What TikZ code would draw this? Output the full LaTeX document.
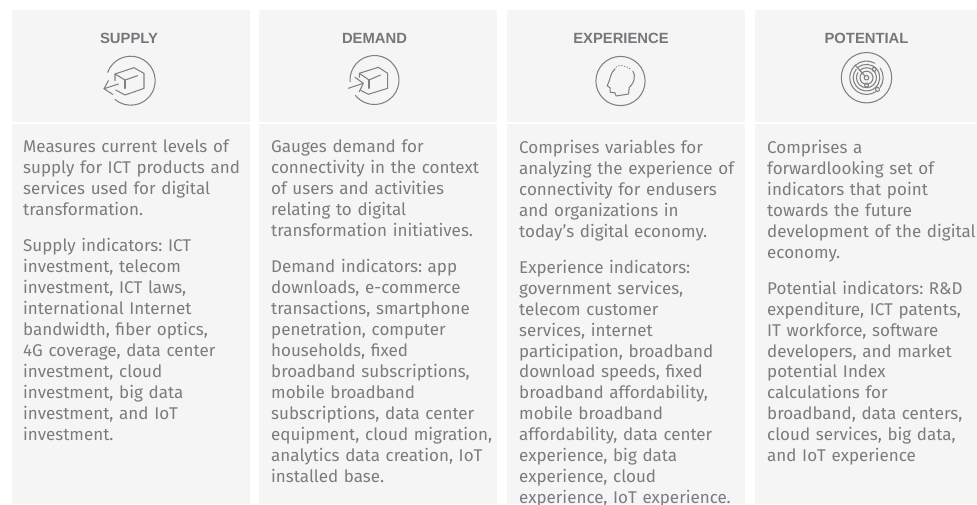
\documentclass[tikz,border=0pt]{standalone}
\usepackage{fontspec}
\setmainfont{Fira Sans}
\definecolor{panel}{HTML}{F5F5F5}
\definecolor{ink}{HTML}{7B7C7F}
\definecolor{headink}{HTML}{76777B}
\definecolor{iconink}{HTML}{808080}
\newfontfamily\headfont{Liberation Sans Bold}
\tikzset{
  x=1pt,y=-1pt,
  panelbox/.style={fill=panel,draw=none},
  headtext/.style={anchor=center,font=\headfont\fontsize{14.8}{17}\selectfont,text=headink,inner sep=0pt},
  bodytext/.style={anchor=north west,align=left,inner sep=0pt,text=ink,text width=232pt,font=\frenchspacing\fontsize{17}{20.95}\selectfont},
  iconline/.style={draw=iconink,line width=1.05pt,line join=round,line cap=round},
}
\newcommand{\paragap}{\\[15pt]}
\begin{document}
\begin{tikzpicture}
\useasboundingbox (0,0) rectangle (977,504);
\fill[white] (0,0) rectangle (977,504);
\foreach \a/\b in {12/250,259/497,507/745,755/977}{
  \path[panelbox] (\a,10) rectangle (\b,122);
  \path[panelbox] (\a,124) rectangle (\b,504);
}
\node[headtext] (h1) at (129,38.5) {SUPPLY};
\node[headtext] (h2) at (374.5,38.5) {DEMAND};
\node[headtext] (h3) at (621,38.5) {EXPERIENCE};
\node[headtext] (h4) at (866.5,38.5) {POTENTIAL};
% supply icon
\begin{scope}[shift={(130.7,80.7)}]
  \draw[iconline] ({24.5*cos(200)},{24.5*sin(200)}) arc[start angle=200,end angle=490,radius=24.5];
  \draw[iconline] (-15.7,0) -- (-15.7,-6.7) -- (3.3,-13) -- (13.3,-7.3) -- (13.3,7.7) -- (-5.7,14.3) -- (-15,9.3);
  \draw[iconline] (-15.7,-6.7) -- (-5.7,-0.7) -- (7,-5);
  \draw[iconline] (-5.7,-0.7) -- (-5.7,7.7);
  \draw[iconline] (-12.3,3.3) -- (-26.7,8);
  \draw[iconline] (-22.3,0) -- (-26.7,8) -- (-18,13.7);
\end{scope}
% demand icon
\begin{scope}[shift={(374.5,80)}]
  \draw[iconline] ({24.5*cos(176)},{24.5*sin(176)}) arc[start angle=176,end angle=501,radius=24.5];
  \draw[iconline] (-15.2,-2.7) -- (-15.2,-6.7) -- (3.8,-12.7) -- (13.2,-6.7) -- (13.2,8.3) -- (-6.2,14.3) -- (-14.5,10);
  \draw[iconline] (-15.2,-6.7) -- (-5.5,0) -- (6,-5);
  \draw[iconline] (-5.5,0) -- (-5.5,8.3);
  \draw[iconline] (-26.2,8.3) -- (-11.2,3.3);
  \draw[iconline] (-19.5,-2.7) -- (-11.2,3.3) -- (-15.2,11.7);
\end{scope}
% experience icon
\begin{scope}[shift={(620.5,81)}]
  \draw[iconline] (0,0) circle[radius=24.6];
  \draw[iconline] (-5.3,-12.3) .. controls (-8,-10) and (-9.3,-7.3) .. (-10.2,-4) -- (-11,-0.7) -- (-13.3,4.7) -- (-10.3,7) -- (-10.3,11.3) -- (-5.7,11.7) -- (-4.3,15) -- (8,13) -- (8.7,6.7) .. controls (11,4) and (13,2) .. (13.6,-2) .. controls (14.2,-5) and (14,-8) .. (12.3,-10);
  \draw[iconline,line width=1pt,dash pattern=on 0.6pt off 2.2pt] (-4.3,-14) .. controls (-1.5,-16) and (5,-16.5) .. (11,-11);
\end{scope}
% potential icon
\begin{scope}[shift={(866.5,77.7)}]
  \draw[iconline] (0,0) circle[radius=25.2];
  \draw[iconline] (0,0) circle[radius=2.3];
  \draw[iconline] (0,0) circle[radius=6.5];
  \draw[iconline] ({10*cos(225)},{10*sin(225)}) arc[start angle=225,end angle=570,radius=10];
  \draw[iconline] ({13.3*cos(230)},{13.3*sin(230)}) arc[start angle=230,end angle=580,radius=13.3];
  \draw[iconline] ({16.7*cos(228)},{16.7*sin(228)}) arc[start angle=228,end angle=300,radius=16.7];
  \draw[iconline] ({16.7*cos(325)},{16.7*sin(325)}) arc[start angle=325,end angle=395,radius=16.7];
  \draw[iconline] ({16.7*cos(55)},{16.7*sin(55)}) arc[start angle=55,end angle=228,radius=16.7];
  \draw[iconline] (-1.6,-1.7) -- (-11.2,-12.4);
  \draw[iconline] (7.7,-8.3) circle[radius=2];
  \draw[iconline] (11,11.7) circle[radius=2];
  \draw[iconline] (0,7.3) circle[radius=2];
\end{scope}
\node[bodytext] (b1) at (23,140) {Measures current levels of\\supply for ICT products and\\services used for digital\\transformation.\paragap Supply indicators: ICT\\investment, telecom\\investment, ICT laws,\\international Internet\\bandwidth, fiber optics,\\4G coverage, data center\\investment, cloud\\investment, big data\\investment, and IoT\\investment.};
\node[bodytext] (b2) at (271,140) {Gauges demand for\\connectivity in the context\\of users and activities\\relating to digital\\transformation initiatives.\paragap Demand indicators: app\\downloads, e-commerce\\transactions, smartphone\\penetration, computer\\households, fixed\\broadband subscriptions,\\mobile broadband\\subscriptions, data center\\equipment, cloud migration,\\analytics data creation, IoT\\installed base.};
\node[bodytext] (b3) at (519,140) {Comprises variables for\\analyzing the experience of\\connectivity for endusers\\and organizations in\\today’s digital economy.\paragap Experience indicators:\\government services,\\telecom customer\\services, internet\\participation, broadband\\download speeds, fixed\\broadband affordability,\\mobile broadband\\affordability, data center\\experience, big data\\experience, cloud\\experience, IoT experience.};
\node[bodytext,text width=215pt] (b4) at (767,140) {Comprises a\\forwardlooking set of\\indicators that point\\towards the future\\development of the digital\\economy.\paragap Potential indicators: R\&D\\expenditure, ICT patents,\\IT workforce, software\\developers, and market\\potential Index\\calculations for\\broadband, data centers,\\cloud services, big data,\\and IoT experience};
\end{tikzpicture}
\end{document}
